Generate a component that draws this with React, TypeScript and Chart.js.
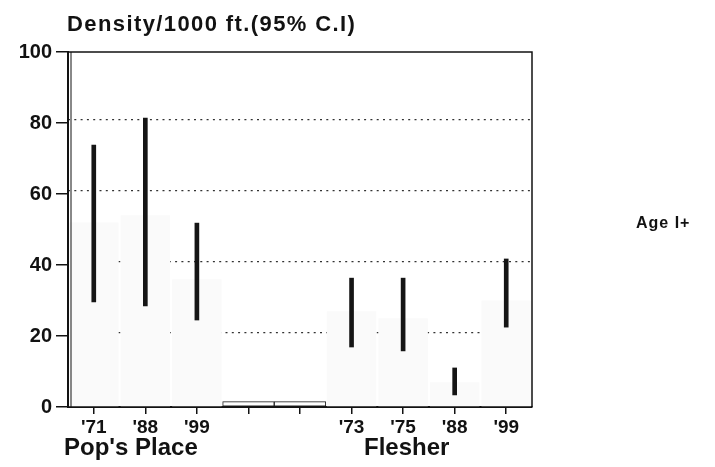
import React, { useEffect, useRef } from "react";
import { Chart, registerables } from "chart.js";

Chart.register(...registerables);

const categories = ["'71", "'88", "'99", "", "", "'73", "'75", "'88", "'99"];
const ciLow = [29.6, 28.5, 24.5, null, null, 16.9, 15.8, 3.4, 22.5];
const ciHigh = [73.8, 81.4, 51.8, null, null, 36.3, 36.3, 11.0, 41.7];
const ghostMeans = [52, 54, 36, null, null, 27, 25, 7, 30];
const baseBoxes = [null, null, null, 1.5, 1.5, null, null, null, null];
const yTicks = [0, 20, 40, 60, 80, 100];
const gridLevels = [21, 41, 61, 81];
const groupLabels = ["Pop's Place", "Flesher"];
const titleText = "Density/1000 ft.(95% C.I)";
const sideLabel = "Age I+";

const SANS = "'Liberation Sans', Arial, sans-serif";
const INK = "#121212";

const textPlugin = {
  id: "texts",
  afterDraw(chart: any) {
    const ctx = chart.ctx;
    const area = chart.chartArea;
    ctx.save();
    ctx.fillStyle = INK;
    ctx.textBaseline = "alphabetic";
    ctx.textAlign = "left";
    try { ctx.letterSpacing = "1.4px"; } catch (e) {}
    ctx.font = `bold 22px ${SANS}`;
    ctx.fillText(titleText, 67, 31);
    try { ctx.letterSpacing = "0px"; } catch (e) {}
    ctx.font = `bold 24px ${SANS}`;
    ctx.fillText(groupLabels[0], 64, 455);
    ctx.fillText(groupLabels[1], 364, 455);
    try { ctx.letterSpacing = "1px"; } catch (e) {}
    ctx.font = `bold 16px ${SANS}`;
    ctx.fillText(sideLabel, 636, 228);
    ctx.restore();

    // frame: top, right, and inner left line
    ctx.save();
    ctx.strokeStyle = INK;
    ctx.lineWidth = 1.5;
    ctx.beginPath();
    ctx.moveTo(area.left, area.top);
    ctx.lineTo(area.right, area.top);
    ctx.lineTo(area.right, area.bottom);
    ctx.stroke();
    ctx.lineWidth = 1;
    ctx.beginPath();
    ctx.moveTo(area.left + 3, area.top);
    ctx.lineTo(area.left + 3, area.bottom);
    ctx.stroke();
    ctx.restore();
  },
};

export default function App() {
  const ref = useRef<HTMLCanvasElement>(null);
  useEffect(() => {
    if (!ref.current) return;
    const chart = new Chart(ref.current, {
      type: "bar",
      data: {
        labels: categories,
        datasets: [
          {
            data: ciLow.map((l, i) => (l == null ? null : [l, ciHigh[i] as number])) as any,
            backgroundColor: "#151515",
            barThickness: 4,
            grouped: false,
            order: 0,
          } as any,
          {
            data: baseBoxes.map((v) => (v == null ? null : [0, v])) as any,
            backgroundColor: "#ffffff",
            borderColor: "#222",
            borderWidth: 1,
            borderSkipped: false,
            categoryPercentage: 1,
            barPercentage: 1,
            grouped: false,
            order: 1,
          } as any,
          {
            data: ghostMeans as any,
            backgroundColor: "#fafafa",
            categoryPercentage: 0.96,
            barPercentage: 1,
            grouped: false,
            order: 2,
          } as any,
        ],
      },
      options: {
        responsive: false,
        animation: false,
        layout: { padding: { top: 52, right: 183, bottom: 30, left: 0 } },
        plugins: {
          legend: { display: false },
          tooltip: { enabled: false },
          title: { display: false },
        },
        scales: {
          x: {
            type: "category",
            offset: true,
            grid: {
              offset: false,
              drawOnChartArea: false,
              drawTicks: true,
              tickLength: 7,
              color: INK,
              lineWidth: 1.5,
            },
            border: { display: true, color: INK, width: 2 },
            ticks: {
              color: INK,
              font: { family: SANS, size: 19, weight: "bold" },
              padding: 2,
              maxRotation: 0,
              autoSkip: false,
            },
            afterFit: (s: any) => {
              s.height = 30;
            },
          },
          y: {
            min: 0,
            max: 100,
            afterBuildTicks: (s: any) => {
              s.ticks = yTicks.map((v) => ({ value: v }));
            },
            grid: {
              drawOnChartArea: false,
              drawTicks: true,
              tickLength: 12,
              color: INK,
              lineWidth: 1.5,
            },
            border: { display: true, color: INK, width: 2 },
            ticks: {
              color: INK,
              font: { family: SANS, size: 20, weight: "bold" },
              padding: 4,
            },
            afterFit: (s: any) => {
              s.width = 68;
            },
          },
          y2: {
            position: "right",
            min: 0,
            max: 100,
            afterBuildTicks: (s: any) => {
              s.ticks = gridLevels.map((v) => ({ value: v }));
            },
            grid: {
              drawOnChartArea: true,
              drawTicks: false,
              color: "#333",
              lineWidth: 1.3,
            },
            border: { display: false, dash: [2, 4.3] },
            ticks: { display: false },
            afterFit: (s: any) => {
              s.width = 0;
            },
          },
        },
      } as any,
      plugins: [textPlugin],
    });
    return () => chart.destroy();
  }, []);

  return (
    <div style={{ position: "absolute", left: 0, top: 0, width: 715, height: 467, background: "#fff" }}>
      <canvas ref={ref} width={715} height={467} style={{ display: "block" }} />
    </div>
  );
}
